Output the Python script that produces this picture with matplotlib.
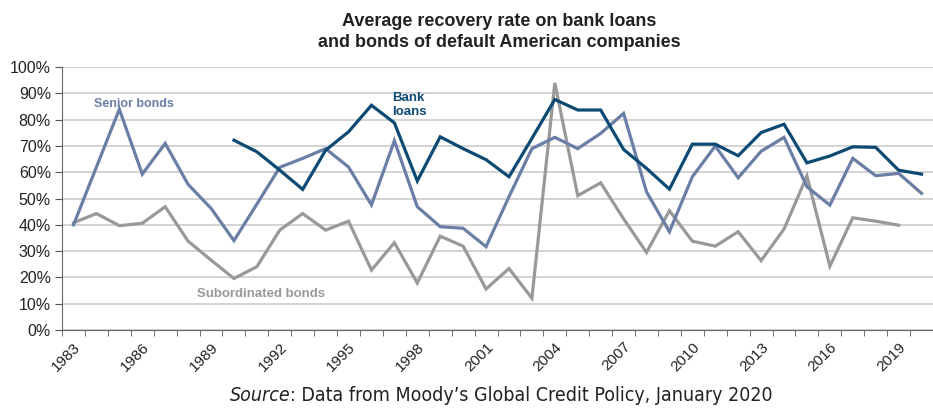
import matplotlib
matplotlib.use("Agg")
import matplotlib.pyplot as plt
import numpy as np

# recovery rates (fractions)
years = np.arange(1983, 2021)

senior_bonds = [0.40, 0.62, 0.84, 0.593, 0.71, 0.554, 0.463, 0.34, 0.479, 0.619,
                0.653, 0.69, 0.62, 0.476, 0.72, 0.469, 0.393, 0.387, 0.317, 0.507,
                0.69, 0.733, 0.69, 0.748, 0.824, 0.526, 0.374, 0.583, 0.70, 0.579,
                0.68, 0.733, 0.545, 0.475, 0.653, 0.587, 0.596, 0.52]

bank_loans = [np.nan] * 7 + [
    0.722, 0.678, 0.608, 0.535, 0.684, 0.754, 0.855, 0.788, 0.567, 0.735,
    0.69, 0.648, 0.583, 0.729, 0.877, 0.837, 0.837, 0.687, 0.615, 0.536,
    0.707, 0.707, 0.663, 0.751, 0.783, 0.636, 0.662, 0.697, 0.695, 0.608,
    0.593]

subordinated = [0.408, 0.443, 0.397, 0.406, 0.469, 0.338, 0.266, 0.196, 0.241, 0.38,
                0.443, 0.38, 0.414, 0.228, 0.332, 0.179, 0.357, 0.319, 0.156, 0.234,
                0.121, 0.94, 0.511, 0.56, 0.423, 0.295, 0.454, 0.338, 0.319, 0.374,
                0.264, 0.384, 0.586, 0.243, 0.427, 0.414, 0.399, np.nan]

tick_years = list(range(1983, 2020, 3))

c_bank = "#0d4a73"
c_senior = "#6b7ea6"
c_sub = "#999999"

fig = plt.figure(figsize=(9.33, 4.12), dpi=100)
ax = fig.add_axes([0.0665, 0.199, 0.9335, 0.638])

ax.plot(years, subordinated, color=c_sub, lw=2.3, solid_joinstyle="miter", zorder=3)
ax.plot(years, senior_bonds, color=c_senior, lw=2.3, solid_joinstyle="miter", zorder=4)
ax.plot(years, bank_loans, color=c_bank, lw=2.3, solid_joinstyle="miter", zorder=5)

ax.set_ylim(0, 1.0)
ax.set_xlim(1982.5, 2020.0)
ax.set_yticks(np.arange(0, 1.01, 0.1))
ax.set_yticklabels([f"{int(round(v * 100))}%" for v in np.arange(0, 1.01, 0.1)],
                   fontsize=11.5, color="#222222", family="Liberation Sans")
ax.grid(axis="y", color="#cccccc", lw=1.2)
ax.set_axisbelow(True)

ax.set_xticks(np.arange(1982.5, 2020.6, 1), minor=True)
ax.set_xticks(tick_years)
ax.set_xticklabels([str(y) for y in tick_years], rotation=45, ha="right",
                   rotation_mode="anchor", fontsize=11, color="#222222",
                   family="Liberation Sans")
ax.tick_params(axis="x", which="major", length=0, pad=7)
ax.tick_params(axis="x", which="minor", length=4, color="#555555", direction="out")
ax.tick_params(axis="y", length=5, color="#555555", direction="out", pad=3)

for s in ["top", "right"]:
    ax.spines[s].set_visible(False)
ax.spines["left"].set_color("#666666")
ax.spines["bottom"].set_color("#666666")

ax.text(1983.9, 0.86, "Senior bonds", color=c_senior, fontsize=9, fontweight="bold",
        family="Liberation Sans", va="center")
ax.text(1996.9, 0.855, "Bank\nloans", color=c_bank, fontsize=9.5, fontweight="bold",
        family="Liberation Sans", va="center", linespacing=1.2)
ax.text(1988.4, 0.137, "Subordinated bonds", color=c_sub, fontsize=9.5, fontweight="bold",
        family="Liberation Sans", va="center")

fig.text(0.535, 0.922, "Average recovery rate on bank loans\nand bonds of default American companies",
         ha="center", va="center", fontsize=13, fontweight="bold", color="#222222",
         family="Liberation Sans", linespacing=1.3)

fig.text(0.311, 0.04, "Source", ha="right", va="center", fontsize=14, style="italic",
         family="DejaVu Sans", stretch="condensed", color="#222222")
fig.text(0.311, 0.04, ": Data from Moody\u2019s Global Credit Policy, January 2020", ha="left",
         va="center", fontsize=14, family="DejaVu Sans", stretch="condensed",
         color="#222222")

fig.savefig("out.png", dpi=100)
